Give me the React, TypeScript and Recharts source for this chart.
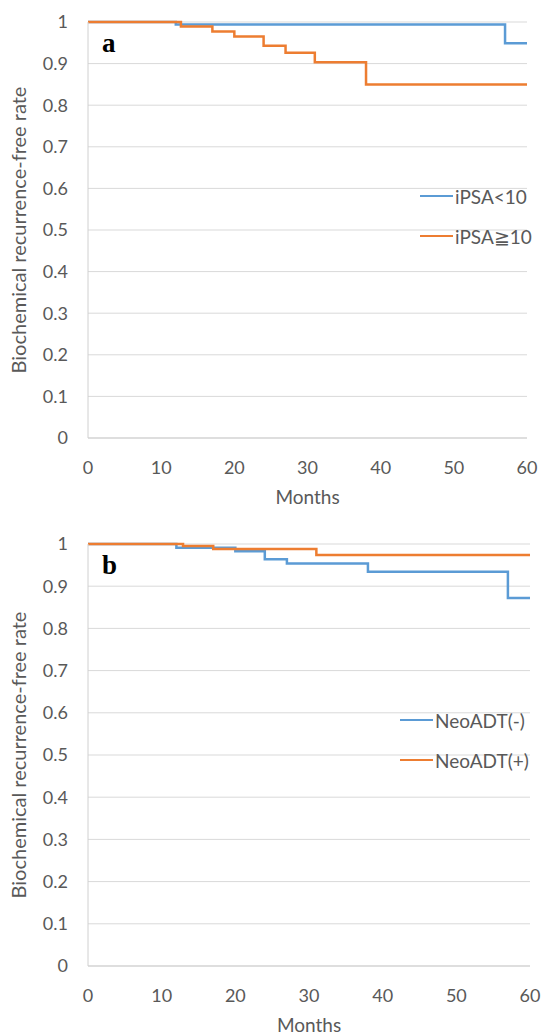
import React from "react";
import { LineChart, Line, XAxis, YAxis, CartesianGrid } from "recharts";

const monthTicks = [0, 10, 20, 30, 40, 50, 60];
const rateTicks = [0, 0.1, 0.2, 0.3, 0.4, 0.5, 0.6, 0.7, 0.8, 0.9, 1];

// panel a: by initial PSA
const ipsaLowMonths = [0, 12, 57, 60];
const ipsaLowRate = [1, 0.994, 0.949, 0.949];
const ipsaHighMonths = [0, 12.7, 17, 20, 24, 27, 31, 38, 60];
const ipsaHighRate = [1, 0.989, 0.977, 0.965, 0.943, 0.926, 0.903, 0.85, 0.85];

// panel b: by neoadjuvant ADT
const neoNegMonths = [0, 12, 20, 24, 27, 38, 57, 60];
const neoNegRate = [1, 0.991, 0.983, 0.964, 0.954, 0.934, 0.872, 0.872];
const neoPosMonths = [0, 12.9, 17, 31, 60];
const neoPosRate = [1, 0.995, 0.988, 0.974, 0.974];

const BLUE = "#5B9BD5";
const ORANGE = "#ED7D31";
const TEXT = "#595959";
const FONT = "Lato, 'Open Sans', sans-serif";

const toPoints = (months: number[], rates: number[]) =>
  months.map((month, i) => ({ month, rate: rates[i] }));

const fmtRate = (v: number) => (v === 0 || v === 1 ? String(v) : v.toFixed(1));

interface Series {
  name: string;
  color: string;
  data: Array<{ month: number; rate: number }>;
}

// simple legend box, kept out of the chart so it doesn't eat plot space
const KMLegend = ({ series, top, left }: { series: Series[]; top: number; left: number }) => (
  <div style={{ position: "absolute", top, left, fontFamily: FONT, fontSize: 19, color: TEXT }}>
    {series.map((s) => (
      <div key={s.name} style={{ display: "flex", alignItems: "center", height: 40 }}>
        <span
          style={{
            display: "inline-block",
            width: 33,
            height: 2.5,
            background: s.color,
            marginRight: 2,
          }}
        />
        <span>{s.name}</span>
      </div>
    ))}
  </div>
);

interface PanelProps {
  tag: string;
  series: Series[];
  margin: { top: number; right: number; bottom: number; left: number };
  legendPos: { top: number; left: number };
}

const Panel: React.FC<PanelProps> = ({ tag, series, margin, legendPos }) => (
  <div style={{ position: "relative", width: 545, height: 518 }}>
    <LineChart width={545} height={518} margin={margin}>
      <CartesianGrid vertical={false} stroke="#d9d9d9" />
      <XAxis
        type="number"
        dataKey="month"
        domain={[0, 60]}
        ticks={monthTicks}
        height={70}
        tickLine={false}
        tickMargin={17}
        axisLine={{ stroke: "#d0d0d0" }}
        tick={{ fill: TEXT, fontSize: 18, fontFamily: FONT }}
        label={{
          value: "Months",
          position: "insideBottom",
          offset: 4,
          fill: TEXT,
          fontSize: 19,
          fontFamily: FONT,
        }}
      />
      <YAxis
        type="number"
        domain={[0, 1]}
        ticks={rateTicks}
        width={88}
        tickLine={false}
        tickMargin={14}
        tickFormatter={fmtRate}
        axisLine={{ stroke: "#d0d0d0" }}
        tick={{ fill: TEXT, fontSize: 18, fontFamily: FONT }}
        label={{
          value: "Biochemical recurrence-free rate",
          angle: -90,
          position: "insideLeft",
          offset: 19,
          fill: TEXT,
          fontSize: 20,
          fontFamily: FONT,
          style: { textAnchor: "middle" },
        }}
      />
      {series.map((s) => (
        <Line
          key={s.name}
          name={s.name}
          data={s.data}
          dataKey="rate"
          type="stepAfter"
          stroke={s.color}
          strokeWidth={2.5}
          dot={false}
          isAnimationActive={false}
        />
      ))}
    </LineChart>
    <KMLegend series={series} top={legendPos.top} left={legendPos.left} />
    <div
      style={{
        position: "absolute",
        left: 102,
        top: margin.top + 6,
        fontFamily: "'Liberation Serif', 'DejaVu Serif', serif",
        fontWeight: "bold",
        fontSize: 27,
        color: "#000",
      }}
    >
      {tag}
    </div>
  </div>
);

const App: React.FC = () => (
  <div style={{ position: "absolute", left: 0, top: 0, width: 545, height: 1036, background: "#fff" }}>
    <Panel
      tag="a"
      margin={{ top: 22, right: 18, bottom: 10, left: 0 }}
      legendPos={{ top: 176, left: 420 }}
      series={[
        { name: "iPSA<10", color: BLUE, data: toPoints(ipsaLowMonths, ipsaLowRate) },
        { name: "iPSA≧10", color: ORANGE, data: toPoints(ipsaHighMonths, ipsaHighRate) },
      ]}
    />
    <Panel
      tag="b"
      margin={{ top: 26, right: 15, bottom: 0, left: 0 }}
      legendPos={{ top: 182, left: 400 }}
      series={[
        { name: "NeoADT(-)", color: BLUE, data: toPoints(neoNegMonths, neoNegRate) },
        { name: "NeoADT(+)", color: ORANGE, data: toPoints(neoPosMonths, neoPosRate) },
      ]}
    />
  </div>
);

export default App;
